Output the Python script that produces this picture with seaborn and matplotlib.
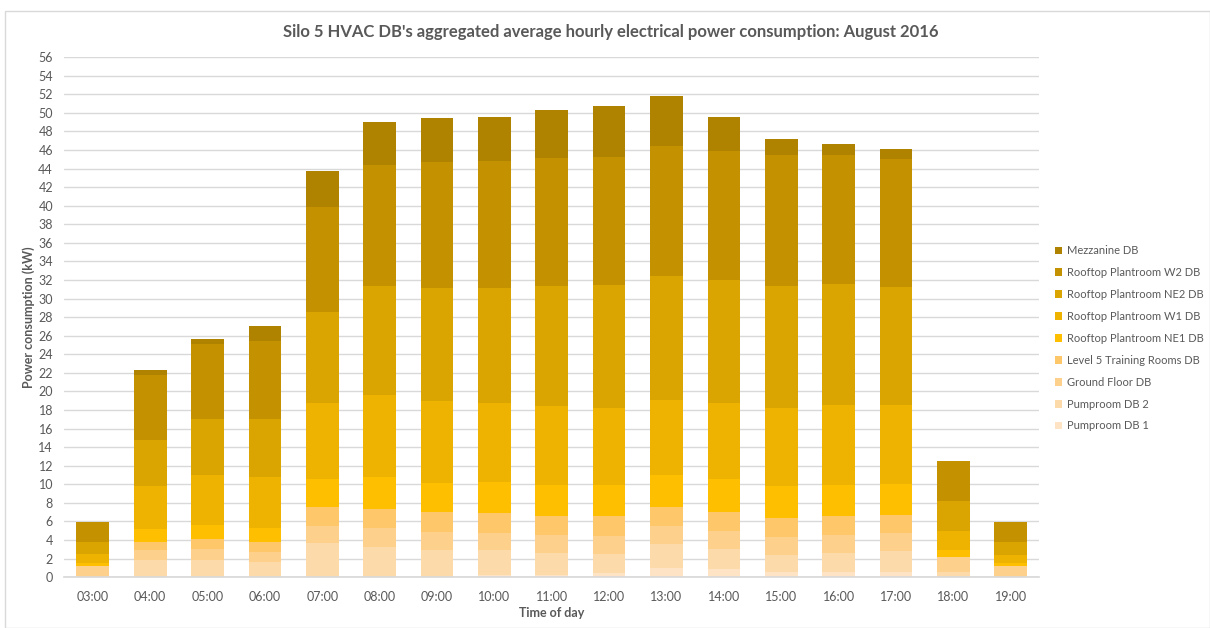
import numpy as np
import pandas as pd
import seaborn as sns
import matplotlib.pyplot as plt
from matplotlib.patches import Patch, Rectangle

# hours and per-DB average hourly power (kW)
hours = ['03:00', '04:00', '05:00', '06:00', '07:00', '08:00', '09:00', '10:00', '11:00',
         '12:00', '13:00', '14:00', '15:00', '16:00', '17:00', '18:00', '19:00']

pumproom_1 = [0, 0, 0, 0, 0, 0, 0, 0.22, 0.22, 0.47, 1.03, 0.85, 0.57, 0.57, 0.57, 0, 0]
pumproom_2 = [0, 1.83, 1.83, 1.58, 3.7, 3.27, 2.9, 2.68, 2.33, 2.01, 2.52, 2.13, 1.8, 2.05, 2.2, 0.57, 0]
ground_floor = [1.22, 1.07, 1.17, 1.08, 1.82, 1.97, 1.98, 1.9, 1.97, 1.92, 1.94, 1.97, 1.93, 1.93, 1.93, 1.55, 1.18]
level5_training = [0, 0.9, 1.06, 1.07, 1.98, 2.08, 2.12, 2.13, 2.08, 2.13, 2.08, 2.05, 2.05, 2.05, 2.0, 0, 0]
rooftop_ne1 = [0.25, 1.37, 1.54, 1.57, 3.05, 3.45, 3.15, 3.27, 3.3, 3.37, 3.43, 3.55, 3.45, 3.3, 3.3, 0.78, 0.29]
rooftop_w1 = [1.01, 4.63, 5.4, 5.5, 8.15, 8.83, 8.85, 8.5, 8.55, 8.3, 8.06, 8.22, 8.43, 8.6, 8.5, 2.09, 0.9]
rooftop_ne2 = [1.32, 5.0, 6.0, 6.2, 9.8, 11.7, 12.1, 12.4, 12.85, 13.3, 13.4, 13.28, 13.07, 13.05, 12.7, 3.2, 1.43]
rooftop_w2 = [2.16, 7.0, 8.1, 8.45, 11.4, 13.1, 13.6, 13.7, 13.85, 13.8, 13.95, 13.85, 14.15, 13.9, 13.8, 4.3, 2.09]
mezzanine = [0, 0.5, 0.5, 1.55, 3.8, 4.6, 4.7, 4.8, 5.15, 5.45, 5.4, 3.7, 1.75, 1.15, 1.15, 0, 0]

series = ['Pumproom DB 1', 'Pumproom DB 2', 'Ground Floor DB', 'Level 5 Training Rooms DB',
          'Rooftop Plantroom NE1 DB', 'Rooftop Plantroom W1 DB', 'Rooftop Plantroom NE2 DB',
          'Rooftop Plantroom W2 DB', 'Mezzanine DB']
colors = ['#FEE4C4', '#FDDAA9', '#FDD08B', '#FDC76A', '#FDBF00',
          '#EEB200', '#DAA500', '#C49200', '#AF8200']

df = pd.DataFrame(dict(zip(series, [pumproom_1, pumproom_2, ground_floor, level5_training,
                                    rooftop_ne1, rooftop_w1, rooftop_ne2, rooftop_w2, mezzanine])))
df['Hour'] = hours
cum = df[series].cumsum(axis=1)
cum['Hour'] = hours

sns.set_theme(style='white')
plt.rcParams['font.family'] = ['Lato', 'DejaVu Sans']

fig = plt.figure(figsize=(12.1, 6.28), dpi=100)
ax = fig.add_axes([0.053, 0.081, 0.806, 0.828])

# stacked bars: draw the running totals from the top series down
for name, col in reversed(list(zip(series, colors))):
    sns.barplot(data=cum, x='Hour', y=name, color=col, saturation=1,
                width=0.57, errorbar=None, ax=ax, linewidth=0)

ax.set_ylim(0, 56)
ax.set_yticks(np.arange(0, 57, 2))
ax.set_xlim(-0.5, len(hours) - 0.5)
ax.yaxis.grid(True, color='#D9D9D9', lw=1)
ax.set_axisbelow(True)
for s in ['left', 'top', 'right']:
    ax.spines[s].set_visible(False)
ax.spines['bottom'].set_color('#D9D9D9')
ax.tick_params(axis='both', length=0, labelsize=9, colors='#595959')
ax.tick_params(axis='y', pad=8)
ax.tick_params(axis='x', pad=10)

ax.set_xlabel('Time of day', fontsize=9, fontweight='bold', color='#595959', labelpad=3)
ax.set_ylabel('Power consumption (kW)', fontsize=9, fontweight='bold', color='#595959', labelpad=2)

fig.text(0.505, 0.949, "Silo 5 HVAC DB's aggregated average hourly electrical power consumption: August 2016",
         ha='center', va='center', fontsize=12, fontweight='bold', color='#595959')

handles = [Patch(facecolor=c, edgecolor='none', label=n) for n, c in zip(series, colors)]
fig.legend(handles=handles[::-1], loc='upper left', bbox_to_anchor=(0.866, 0.62),
           frameon=False, fontsize=8, labelcolor='#595959', handlelength=0.7,
           handleheight=0.7, handletextpad=0.4, labelspacing=0.98, borderaxespad=0.2)

fig.patches.append(Rectangle((0.004, 0.0), 0.996, 0.982, transform=fig.transFigure,
                             fill=False, edgecolor='#D9D9D9', lw=1))

fig.savefig('out.png', dpi=100)
